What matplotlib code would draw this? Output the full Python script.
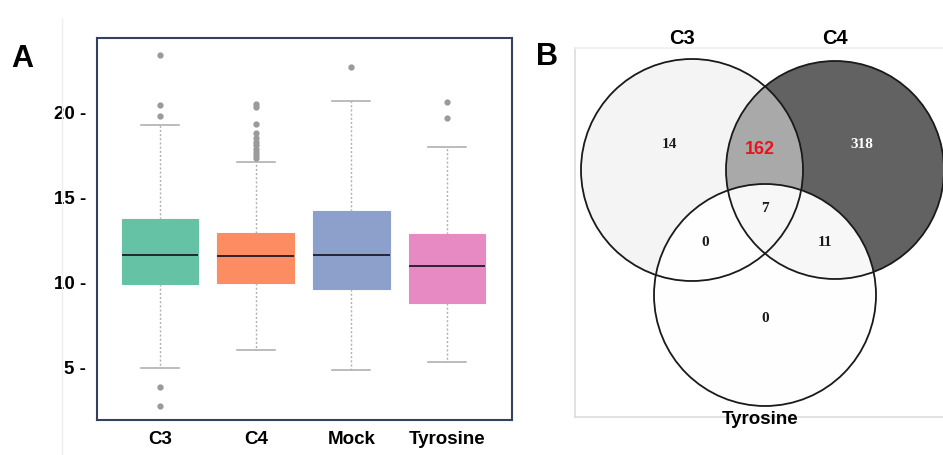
import matplotlib
matplotlib.use("Agg")
import matplotlib.pyplot as plt
from matplotlib.patches import Circle
from matplotlib.lines import Line2D

# ---- panel A: box plot summary values ----
groups = ["C3", "C4", "Mock", "Tyrosine"]
box_colors = ["#66c2a5", "#fc8d62", "#8da0cb", "#e78ac3"]
q1 = [9.94, 10.0, 9.65, 8.82]
med = [11.65, 11.6, 11.65, 11.0]
q3 = [13.76, 12.94, 14.24, 12.88]
whis_lo = [5.0, 6.06, 4.88, 5.35]
whis_hi = [19.3, 17.1, 20.7, 18.0]
fliers = [
    [23.4, 20.47, 19.8, 3.9, 2.76],
    [20.5, 20.35, 19.35, 18.8, 18.5, 18.3, 18.1, 17.9, 17.7, 17.5, 17.35],
    [22.7],
    [20.65, 19.7],
]
yticks = [5, 10, 15, 20]

# ---- panel B: Venn counts ----
venn_sets = ["C3", "C4", "Tyrosine"]
venn_counts = {"C3": 14, "C3&C4": 162, "C4": 318, "C3&C4&Tyr": 7,
               "C3&Tyr": 0, "C4&Tyr": 11, "Tyr": 0}

W, H = 943, 455
fig = plt.figure(figsize=(W / 100, H / 100), dpi=100)

sans = ["Liberation Sans", "DejaVu Sans"]
serif = ["Liberation Serif", "DejaVu Serif"]

# faint line of the pasted tick-label column
fig.add_artist(Line2D([62 / W, 62 / W], [0, 1 - 18 / H], color="#eeeeee", lw=1))

ax = fig.add_axes([97 / W, (H - 420) / H, (512 - 97) / W, (420 - 38) / H])
stats = []
for i, g in enumerate(groups):
    stats.append({"label": g, "q1": q1[i], "med": med[i], "q3": q3[i],
                  "whislo": whis_lo[i], "whishi": whis_hi[i], "fliers": fliers[i]})
bp = ax.bxp(stats, positions=range(len(groups)), widths=0.8, patch_artist=True,
            boxprops=dict(linewidth=0.8),
            medianprops=dict(color="#1c1c2a", linewidth=1.3),
            whiskerprops=dict(color="#b0b0b0", linestyle=(0, (1.5, 1.5)), linewidth=1),
            capprops=dict(color="#b0b0b0", linewidth=1.2),
            capwidths=0.4,
            flierprops=dict(marker="o", markerfacecolor="#9a9a9a", markeredgecolor="#9a9a9a",
                            markersize=3.5))
for patch, c in zip(bp["boxes"], box_colors):
    patch.set_facecolor(c)
    patch.set_edgecolor(c)

ax.set_xlim(-0.66, 3.68)
ax.set_ylim(1.94, 24.41)
ax.set_yticks(yticks)
ax.set_yticklabels([f"{t} -" for t in yticks], fontfamily=sans, fontweight="bold", fontsize=13.5)
ax.set_xticklabels(groups, fontfamily=sans, fontweight="bold", fontsize=13.5)
ax.tick_params(axis="both", length=0)
ax.tick_params(axis="y", pad=8)
ax.tick_params(axis="x", pad=8)
for s in ax.spines.values():
    s.set_color("#33415e")
    s.set_linewidth(1.5)

fig.text(22 / W, 1 - 59 / H, "A", ha="center", va="center", fontsize=22,
         fontweight="bold", family=sans)
fig.text(547 / W, 1 - 57 / H, "B", ha="center", va="center", fontsize=22,
         fontweight="bold", family=sans)

# ---- Venn panel, data coords = pixels ----
av = fig.add_axes([575 / W, (H - 417) / H, (W - 575) / W, (417 - 48) / H])
av.set_xlim(575, W)
av.set_ylim(417, 48)
av.set_xticks([])
av.set_yticks([])
for name, s in av.spines.items():
    s.set_color("#dddddd")
    s.set_linewidth(1.2)
av.spines["right"].set_visible(False)
av.spines["top"].set_color("#f0f0f0")

c3 = Circle((692, 170), 111, facecolor="#f4f4f4", edgecolor="none")
c4 = Circle((835, 170), 109, facecolor="#626262", edgecolor="none")
av.add_patch(c3)
av.add_patch(c4)
both = Circle((692, 170), 111, facecolor="#a9a9a9", edgecolor="none")
av.add_patch(both)
both.set_clip_path(Circle((835, 170), 109, transform=av.transData))
tyr = Circle((765, 295), 111, facecolor="#fefefe", edgecolor="none")
av.add_patch(tyr)
tyr_c4 = Circle((765, 295), 111, facecolor="#f7f7f7", edgecolor="none")
av.add_patch(tyr_c4)
tyr_c4.set_clip_path(Circle((835, 170), 109, transform=av.transData))
for (x, y), r in [((692, 170), 111), ((835, 170), 109), ((765, 295), 111)]:
    av.add_patch(Circle((x, y), r, facecolor="none", edgecolor="#1a1a1a",
                        linewidth=1.3, clip_on=False))

num_pos = {"C3": (669, 145), "C4": (862, 145), "C3&C4&Tyr": (765, 209),
           "C3&Tyr": (705, 243), "C4&Tyr": (825, 243), "Tyr": (765, 318)}
for key, (x, y) in num_pos.items():
    av.text(x, y, str(venn_counts[key]), ha="center", va="center", fontsize=11,
            fontweight="bold", family=serif,
            color="white" if key == "C4" else "#1a1a1a")
av.text(760, 150, str(venn_counts["C3&C4"]), ha="center", va="center", fontsize=13,
        fontweight="bold", family=sans, color="#e8141c")

av.text(682, 38, venn_sets[0], ha="center", va="center", fontsize=14.5,
        fontweight="bold", family=sans, clip_on=False)
av.text(835, 38, venn_sets[1], ha="center", va="center", fontsize=14.5,
        fontweight="bold", family=sans, clip_on=False)
av.text(760, 420, venn_sets[2], ha="center", va="center", fontsize=13.5,
        fontweight="bold", family=sans, clip_on=False, zorder=5)

fig.savefig("out.png", dpi=100)
